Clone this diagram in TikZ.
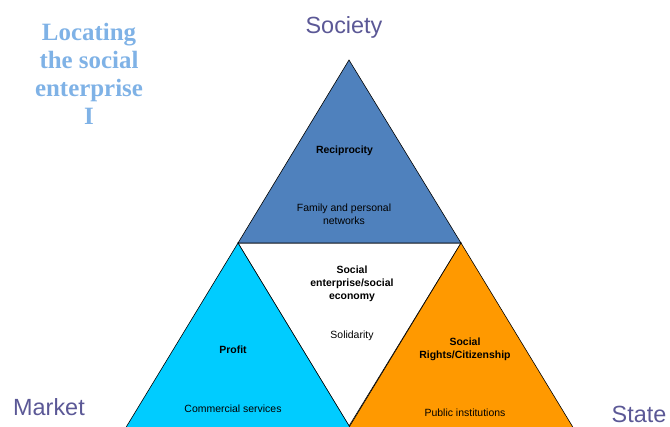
\documentclass[tikz,border=0pt]{standalone}
\usepackage{fontspec}
\setmainfont{Liberation Sans}
\newfontfamily\titlefont{Liberation Serif}
\definecolor{reciprocityblue}{HTML}{4F81BD}
\definecolor{profitcyan}{HTML}{00CCFF}
\definecolor{stateorange}{HTML}{FF9900}
\definecolor{titleblue}{HTML}{7FB2E6}
\definecolor{cornerpurple}{HTML}{5B5896}
\begin{document}
\begin{tikzpicture}
[x=1bp,y=-1bp,
  triangledecorate/.style={draw=black,line width=0.6bp,line join=miter},
  cornerlabel/.style={anchor=base,inner sep=0pt,text=cornerpurple,font=\fontsize{23.5}{28}\selectfont},
  boldlabel/.style={anchor=base,align=center,font=\fontsize{10.5}{13}\selectfont\bfseries},
  plainlabel/.style={anchor=base,align=center,font=\fontsize{10.5}{12.7}\selectfont}]
\useasboundingbox (0,0) rectangle (670,426);
% corners of the triangles
\coordinate (top) at (349,60);
\coordinate (midleft) at (238,243);
\coordinate (midright) at (461,243);
\coordinate (bottom) at (349,426);
\coordinate (farleft) at (125,429);
\coordinate (leftbase) at (351,429);
\coordinate (rightbase) at (348,429);
\coordinate (farright) at (574,429);
% triangles
\path[triangledecorate,fill=white] (midleft) -- (midright) -- (bottom) -- cycle;
\path[triangledecorate,fill=reciprocityblue] (top) -- (midright) -- (midleft) -- cycle;
\path[triangledecorate,fill=profitcyan] (midleft) -- (leftbase) -- (farleft) -- cycle;
\path[triangledecorate,fill=stateorange] (midright) -- (farright) -- (rightbase) -- cycle;
% title (base is the last line)
\node (title) at (89,124) [anchor=base,align=center,text=titleblue,
  font=\titlefont\fontsize{25}{28}\selectfont\bfseries]
  {Locating\\the social\\enterprise\\I};
% corners
\node (society) at (344,33) [cornerlabel] {Society};
\node (market) at (49,415) [cornerlabel] {Market};
\node (state) at (639,422) [cornerlabel] {State};
% texts in the triangles
\node (reciprocity) at (344.5,153) [boldlabel] {Reciprocity};
\node (family) at (344,224) [plainlabel] {Family and personal\\networks};
\node (socialeconomy) at (352,299) [boldlabel] {Social\\enterprise/social\\economy};
\node (solidarity) at (352,338) [plainlabel] {Solidarity};
\node (profit) at (233,353) [boldlabel] {Profit};
\node (commercial) at (233,412) [plainlabel] {Commercial services};
\node (rights) at (465,358) [boldlabel] {Social\\Rights/Citizenship};
\node (public) at (465,416) [plainlabel] {Public institutions};
\end{tikzpicture}
\end{document}
